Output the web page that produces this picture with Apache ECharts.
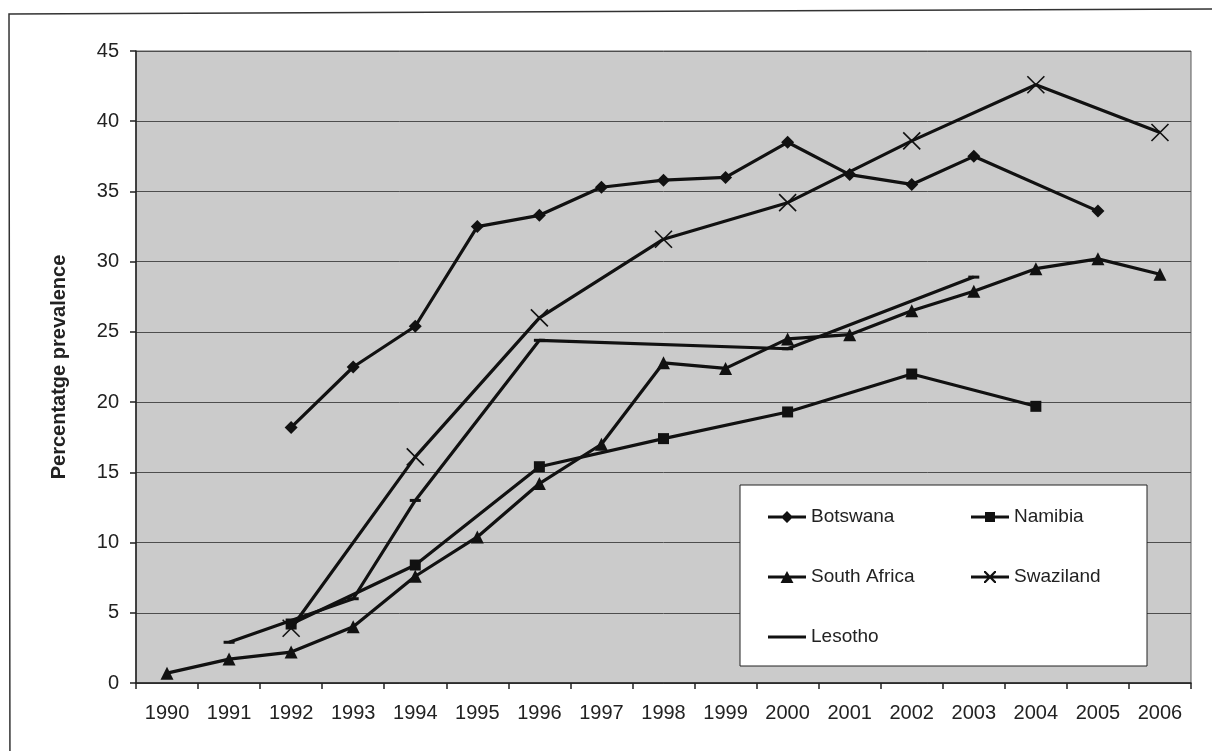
<!DOCTYPE html>
<html>
<head>
<meta charset="utf-8">
<script src="https://cdn.jsdelivr.net/npm/echarts@6/dist/echarts.min.js"></script>
<style>
  html, body { margin: 0; padding: 0; background: #fff; }
  #chart { width: 1212px; height: 751px; }
</style>
</head>
<body>
<div id="chart"></div>
<script>
// Antenatal HIV prevalence by country, 1990-2006
const years = ['1990','1991','1992','1993','1994','1995','1996','1997','1998','1999','2000','2001','2002','2003','2004','2005','2006'];
const botswana    = [null, null, 18.2, 22.5, 25.4, 32.5, 33.3, 35.3, 35.8, 36.0, 38.5, 36.2, 35.5, 37.5, null, 33.6, null];
const namibia     = [null, null, 4.2, null, 8.4, null, 15.4, null, 17.4, null, 19.3, null, 22.0, null, 19.7, null, null];
const southAfrica = [0.7, 1.7, 2.2, 4.0, 7.6, 10.4, 14.2, 17.0, 22.8, 22.4, 24.5, 24.8, 26.5, 27.9, 29.5, 30.2, 29.1];
const swaziland   = [null, null, 3.9, null, 16.1, null, 26.0, null, 31.6, null, 34.2, null, 38.6, null, 42.6, null, 39.2];
const lesotho     = [null, 2.9, null, 6.0, 13.0, null, 24.4, null, null, null, 23.8, null, null, 28.9, null, null, null];
const yTicks = { min: 0, max: 45, interval: 5 };

const FONT = '"Liberation Sans", Arial, sans-serif';
const INK = '#111';

// Legend icons: a 38-wide line segment with the series marker in its middle
const BAR = 'M0,5.5L38,5.5L38,8.5L0,8.5Z';
const ICONS = {
  'Botswana': 'path://' + BAR + 'M19,1L25,7L19,13L13,7Z',
  'Namibia': 'path://' + BAR + 'M14,2L24,2L24,12L14,12Z',
  'South Africa': 'path://' + BAR + 'M19,1L25.5,13L12.5,13Z',
  'Swaziland': 'path://' + BAR +
    'M13,1L14.6,1L25,11.4L25,13L23.4,13L13,2.6Z' +
    'M23.4,1L25,1L25,2.6L14.6,13L13,13L13,11.4Z',
  'Lesotho': 'path://M0,0L38,0L38,3L0,3Z'
};

function lineSeries(name, data, symbol, size, extraItem) {
  return {
    name: name,
    type: 'line',
    data: data,
    connectNulls: true,
    symbol: symbol,
    symbolSize: size,
    showAllSymbol: true,
    lineStyle: { color: INK, width: 3.2 },
    itemStyle: Object.assign({ color: INK, borderColor: INK, borderWidth: 0 }, extraItem || {}),
    emphasis: { disabled: true },
    animation: false,
    z: 3
  };
}

const legendNames = ['Botswana', 'Namibia', 'South Africa', 'Swaziland', 'Lesotho'];

const chart = echarts.init(document.getElementById('chart'), null, { renderer: 'canvas' });
chart.setOption({
  backgroundColor: '#ffffff',
  animation: false,
  textStyle: { fontFamily: FONT },
  grid: {
    left: 136, right: 21, top: 51, bottom: 68,
    show: true,
    backgroundColor: '#cbcbcb',
    borderColor: '#5a5a5a',
    borderWidth: 1
  },
  xAxis: {
    type: 'category',
    data: years,
    boundaryGap: true,
    axisLine: { lineStyle: { color: '#222', width: 1.5 } },
    axisTick: { show: true, length: 6, lineStyle: { color: '#222', width: 1.5 } },
    axisLabel: { fontSize: 20, color: '#222', fontFamily: FONT, margin: 20 },
    splitLine: { show: false }
  },
  yAxis: {
    type: 'value',
    min: yTicks.min, max: yTicks.max, interval: yTicks.interval,
    name: 'Percentatge prevalence',
    nameLocation: 'middle',
    nameRotate: 90,
    nameGap: 67,
    nameTextStyle: { fontSize: 20, fontWeight: 'bold', color: '#222', fontFamily: FONT },
    axisLine: { show: true, lineStyle: { color: '#222', width: 1.5 } },
    axisTick: { show: true, length: 6, lineStyle: { color: '#222', width: 1.5 } },
    axisLabel: { fontSize: 20, color: '#222', fontFamily: FONT, margin: 17 },
    splitLine: { show: true, lineStyle: { color: '#4e4e4e', width: 1 } }
  },
  legend: {
    left: 740,
    top: 485,
    orient: 'horizontal',
    width: 407,
    itemWidth: 38,
    itemHeight: 14,
    itemGap: 40,
    symbolKeepAspect: true,
    padding: [22, 13, 19, 28],
    backgroundColor: '#ffffff',
    borderColor: '#222',
    borderWidth: 1,
    itemStyle: { color: INK, borderWidth: 0 },
    textStyle: { fontSize: 19, color: '#222', fontFamily: FONT, width: 120, lineHeight: 20, padding: [0, 0, 0, 0] },
    data: legendNames.map(n => ({ name: n, icon: ICONS[n] }))
  },
  graphic: [{
    type: 'polyline',
    silent: true,
    shape: { points: [[10, 800], [9, 14], [1230, 9]] },
    style: { stroke: '#333', lineWidth: 1.5, fill: null }
  }],
  series: [
    lineSeries('Botswana', botswana, 'diamond', 13),
    lineSeries('Namibia', namibia, 'rect', 11),
    lineSeries('South Africa', southAfrica, 'triangle', 13),
    lineSeries('Swaziland', swaziland, 'path://M0,0L10,10M10,0L0,10', 17, { borderWidth: 1.6 }),
    lineSeries('Lesotho', lesotho, 'rect', [11, 3])
  ]
});
</script>
</body>
</html>
